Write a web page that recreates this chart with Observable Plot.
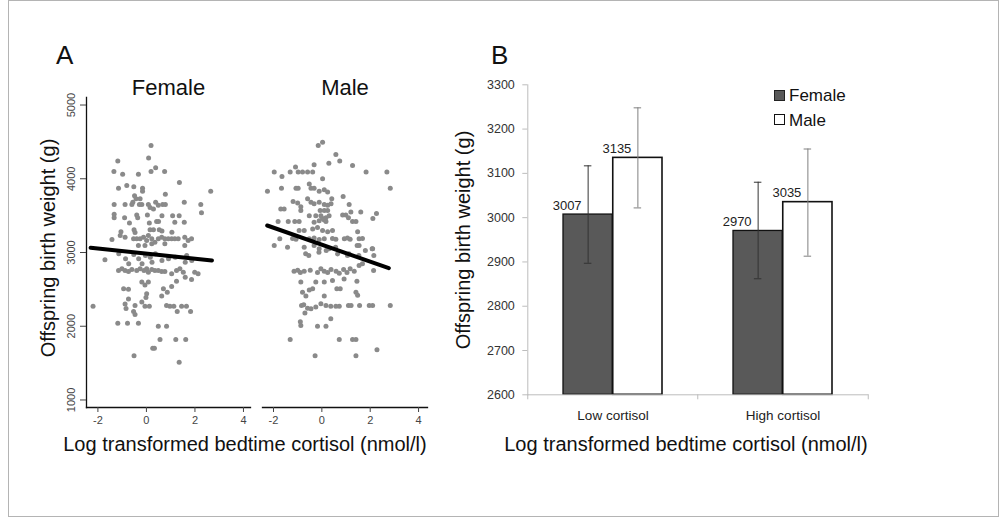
<!DOCTYPE html>
<html>
<head>
<meta charset="utf-8">
<script src="https://cdn.jsdelivr.net/npm/d3@7"></script>
<script src="https://cdn.jsdelivr.net/npm/@observablehq/plot@0.6"></script>
<style>
  body { margin: 0; background: #fff; font-family: "Liberation Sans", Arial, sans-serif; }
  #wrap { position: relative; width: 1002px; height: 524px; overflow: hidden; background: #fff; }
  #wrap svg { position: absolute; left: 0; top: 0; }
  .border { position: absolute; left: 8px; top: 0px; width: 991px; height: 517px; border: 1px solid #b4b4b4; box-sizing: border-box; }
  .t { position: absolute; white-space: nowrap; color: #111; }
  .panel { font-size: 26px; line-height: 26px; }
  .ytitle { font-size: 20px; line-height: 20px; transform: translate(-50%, -50%) rotate(-90deg); }
  .xtitle { font-size: 20px; line-height: 20px; width: 500px; text-align: center; }
  .leg { font-size: 17px; line-height: 17px; }
  .sw { position: absolute; width: 11px; height: 11px; box-sizing: border-box; border: 1.5px solid #111; }
</style>
</head>
<body>
<div id="wrap">
  <div class="border"></div>
</div>
<script>
// ---------- Panel A data: log bedtime cortisol vs offspring birth weight ----------
const femaleX = [
  0.19,-1.18,0.09,-1.34,-0.98,-0.33,0.19,0.38,0.75,1.36,2.65,
  -1.15,-0.81,-0.52,-0.16,-0.16,0.78,-0.49,-0.43,-0.26,
  -1.33,-0.88,-0.6,-0.56,-0.29,-0.19,0.08,0.15,0.38,0.29,0.49,0.67,0.78,1.56,2.24,2.27,
  -1.33,-1.33,-0.9,-0.7,-0.4,-0.36,0.04,0.12,0.42,0.5,0.64,1.08,1.35,1.17,1.56,
  -0.51,-0.47,0.15,0.29,0.53,-1.05,0.64,1.05,
  -1.42,-1.08,-0.88,-0.53,-0.4,-0.26,-0.12,0.01,0.08,0.22,0.35,0.49,0.63,0.76,0.9,1.04,1.17,1.31,1.58,1.72,1.86,1.58,-0.33,-0.06,0.22,0.76,
  -1.71,-1.14,-0.86,-0.52,-0.32,-0.04,0.16,0.37,0.64,0.91,1.19,1.6,1.66,1.87,-0.73,-0.18,0.23,
  -1.15,-1.01,-0.88,-0.74,-0.6,-0.4,-0.26,-0.1,0.01,0.08,0.22,0.35,0.49,0.63,0.76,1.04,1.24,1.38,1.52,1.99,2.13,
  1.86,1.6,-0.94,-0.74,-0.19,-0.06,0.08,0.7,0.86,1.04,1.24,0.01,-0.02,0.63,
  -2.2,-0.74,-0.88,-0.84,-0.47,-0.19,-0.06,0.12,0.83,0.97,1.13,1.45,1.65,
  -0.53,-0.47,1.27,1.82,-1.18,-0.78,-0.33,0.49,0.83,0.56,1.21,1.62,0.26,0.33,-0.51,1.35
];
const femaleW = [
  4450,4240,4280,4100,4060,4060,4100,4150,4100,3950,3830,
  3870,3910,3890,3870,3830,3790,3770,3730,3730,
  3650,3650,3650,3680,3650,3650,3650,3610,3680,3590,3640,3650,3650,3680,3650,3540,
  3520,3470,3470,3400,3510,3470,3510,3400,3420,3420,3500,3500,3500,3410,3410,
  3310,3270,3310,3310,3310,3280,3290,3275,
  3176,3230,3207,3186,3186,3186,3207,3163,3230,3186,3140,3186,3207,3186,3186,3186,3186,3186,3207,3163,3186,3095,3095,3095,3118,3118,
  2900,2982,2915,2973,2915,2959,2936,2982,2892,2915,2936,2869,2959,2892,2847,2847,2869,
  2756,2779,2756,2743,2770,2756,2779,2756,2779,2733,2770,2756,2756,2743,2743,2711,2756,2779,2733,2733,2711,
  2634,2665,2510,2500,2600,2560,2600,2510,2460,2540,2610,2440,2390,2410,
  2270,2370,2300,2240,2280,2330,2270,2270,2280,2270,2270,2270,2270,
  2200,2160,2200,2200,2040,2040,2040,2000,2000,1820,1820,1820,1700,1700,1600,1510
];
const maleX = [
  -0.15,0.03,0.58,0.74,-0.32,0.29,1.27,-1.09,-1.97,-1.31,-0.98,-0.8,-0.59,-0.38,1.83,2.69,-1.65,0.03,
  -2.25,-1.67,-1.07,-0.98,-0.52,-0.45,-0.32,-0.11,0.1,0.24,0.88,2.83,
  -1.19,-1.0,-0.87,-0.59,-0.45,-0.32,-0.11,0.1,0.24,0.38,0.41,1.13,
  -1.7,-1.56,-0.87,-0.07,0.1,0.24,0.86,0.99,1.2,1.61,2.26,2.11,
  -0.52,-0.25,-0.04,0.03,0.17,0.3,1.1,1.27,1.41,-1.81,-1.39,-1.12,-0.94,-0.32,-0.11,0.1,0.17,
  -0.94,-0.73,-0.38,-0.18,0.03,0.24,0.44,1.48,
  -1.74,-1.21,-1.07,-0.52,-0.32,-0.11,0.1,0.44,0.58,0.93,1.06,1.17,1.54,1.68,
  -1.97,-1.42,-0.73,-0.32,-0.11,0.3,1.54,2.1,0.65,1.06,
  -0.67,-0.54,-0.12,0.18,0.57,1.12,1.46,1.53,1.8,2.08,2.15,
  -1.15,-1.0,-0.89,-0.73,-0.48,-0.18,-0.04,0.1,0.24,0.38,0.59,0.72,0.9,1.04,1.17,1.34,1.54,1.68,2.14,
  -0.87,-0.25,0.1,0.44,0.92,1.45,-0.8,-0.52,-0.38,0.62,0.76,1.41,1.48,-0.66,0.1,
  -0.84,-0.75,-0.59,-0.45,-0.25,-0.04,0.17,0.37,0.58,0.72,1.1,1.21,1.56,1.96,2.1,2.83,
  -0.7,-0.89,-0.87,-0.18,0.17,0.37,-1.31,0.72,1.27,1.41,2.28,-0.28,1.41
];
const maleW = [
  4450,4495,4330,4240,4190,4210,4180,4160,4090,4090,4090,4090,4090,4090,4090,4090,4030,4000,
  3830,3870,3870,3870,3930,3870,3870,3830,3850,3820,3760,3870,
  3690,3670,3620,3730,3680,3660,3680,3650,3640,3660,3730,3650,
  3590,3590,3570,3570,3570,3570,3510,3510,3550,3550,3530,3460,
  3500,3500,3500,3460,3470,3500,3470,3420,3420,3420,3420,3420,3420,3410,3430,3440,3420,
  3300,3300,3320,3340,3300,3280,3300,3280,
  3186,3190,3180,3186,3195,3175,3186,3190,3180,3186,3195,3180,3186,3190,
  3095,3070,3070,3095,3050,3050,3095,3050,2980,2960,
  2982,2959,3004,3027,3072,2982,3095,2959,3027,3050,2959,
  2745,2760,2730,2745,2760,2730,2780,2745,2730,2770,2745,2720,2770,2730,2780,2745,2824,2847,2756,
  2600,2600,2600,2620,2640,2610,2460,2490,2510,2510,2510,2460,2420,2410,2410,
  2280,2290,2245,2237,2260,2305,2282,2270,2270,2270,2282,2282,2282,2282,2282,2282,
  2180,2060,2010,2000,2000,2100,1820,1820,1820,1820,1680,1600,1600
];
// regression line end points
const femaleFitX = [-2.3, 2.7];
const femaleFitW = [3064, 2892];
const maleFitX = [-2.26, 2.77];
const maleFitW = [3366, 2787];
const scatterXTicks = [-2, 0, 2, 4];
const scatterYTicks = [1000, 2000, 3000, 4000, 5000];

// ---------- Panel B data ----------
const categories = ["Low cortisol", "High cortisol"];
const femaleMean = [3007, 2970];
const maleMean = [3135, 3035];
const femaleLow = [2897, 2862];
const femaleHigh = [3117, 3080];
const maleLow = [3022, 2913];
const maleHigh = [3248, 3155];
const barYTicks = [2600, 2700, 2800, 2900, 3000, 3100, 3200, 3300];

const W = 1002, H = 524;
const FONT = "'Liberation Sans', Arial, sans-serif";
const wrap = document.getElementById("wrap");
const plain = d => String(d);

function scatter(xs, ws, fx, fw, title, left, right, withY) {
  const data = xs.map((x, i) => ({x, w: ws[i]}));
  const fit = fx.map((x, i) => ({x, w: fw[i]}));
  const marks = [
    Plot.dot(data, {x: "x", y: "w", r: 2.5, fill: "#8a8a8a"}),
    Plot.line(fit, {x: "x", y: "w", stroke: "#000", strokeWidth: 4}),
    Plot.frame({anchor: "bottom", stroke: "#111", strokeWidth: 1.3}),
    Plot.axisX({ticks: scatterXTicks, tickFormat: plain, tickSize: 5, tickPadding: 4, fontSize: 11, color: "#444", label: null}),
    Plot.text([title], {frameAnchor: "top", dy: -18, fontSize: 22, fill: "#111"})
  ];
  if (withY) {
    marks.push(
      Plot.frame({anchor: "left", stroke: "#111", strokeWidth: 1.3}),
      Plot.axisY({ticks: scatterYTicks, tickSize: 6, tickFormat: () => "", color: "#444", label: null}),
      Plot.text(scatterYTicks, {y: d => d, text: plain, frameAnchor: "left", rotate: -90,
        dx: -12, textAnchor: "middle", lineAnchor: "bottom", fontSize: 11, fill: "#444"})
    );
  } else {
    marks.push(Plot.axisY({ticks: [], label: null}));
  }
  return Plot.plot({
    width: W, height: H,
    marginLeft: left, marginRight: W - right, marginTop: 97, marginBottom: H - 407,
    style: {background: "transparent", fontFamily: FONT},
    x: {domain: withY ? [-2.47, 4.29] : [-2.455, 4.37], label: null},
    y: {domain: [898, 5102], label: null},
    marks
  });
}

wrap.appendChild(scatter(femaleX, femaleW, femaleFitX, femaleFitW, "Female", 86, 250, true));
wrap.appendChild(scatter(maleX, maleW, maleFitX, maleFitW, "Male", 262, 427, false));

// ---------- Panel B ----------
const bLeft = 527.3, bRight = 868.3;
const step = (bRight - bLeft) / categories.length;
const bw = 99.5;
const pad = 1 - bw / step;
const off = bw / 4;
const capW = 8;
const rows = categories.map((c, i) => ({
  cat: c, f: femaleMean[i], m: maleMean[i],
  fLo: femaleLow[i], fHi: femaleHigh[i], mLo: maleLow[i], mHi: maleHigh[i]
}));
const capInset = (bw - capW) / 2;
const barPlot = Plot.plot({
  width: W, height: H,
  marginLeft: bLeft, marginRight: W - bRight, marginTop: 84.3, marginBottom: H - 394.3,
  style: {background: "transparent", fontFamily: FONT},
  x: {domain: categories, paddingInner: pad, paddingOuter: pad / 2, label: null},
  y: {domain: [2600, 3300], label: null},
  marks: [
    Plot.barY(rows, {x: "cat", y1: 2600, y2: "f", fill: "#595959", stroke: "#111", strokeWidth: 1.3, insetRight: bw / 2}),
    Plot.barY(rows, {x: "cat", y1: 2600, y2: "m", fill: "#fff", stroke: "#111", strokeWidth: 1.6, insetLeft: bw / 2}),
    Plot.ruleY([2600], {stroke: "#bdbdbd"}),
    Plot.frame({anchor: "left", stroke: "#bdbdbd"}),
    Plot.axisY({ticks: barYTicks, tickFormat: plain, tickSize: 5, tickPadding: 8, stroke: "#bdbdbd", fill: "#333", fontSize: 12.5, label: null}),
    Plot.axisX({tickSize: 0, tickPadding: 15.5, fontSize: 13.5, fill: "#222", label: null}),
    Plot.ruleX(categories, {x: d => d, dx: -step / 2, y1: 2600, y2: 2600, insetBottom: -5, stroke: "#bdbdbd"}),
    Plot.ruleX(categories.slice(-1), {x: d => d, dx: step / 2, y1: 2600, y2: 2600, insetBottom: -5, stroke: "#bdbdbd"}),
    // error bars
    Plot.ruleX(rows, {x: "cat", y1: "fLo", y2: "fHi", dx: -off, stroke: "#333", strokeWidth: 1}),
    Plot.tickY(rows, {x: "cat", y: "fHi", dx: -off, insetLeft: capInset, insetRight: capInset, stroke: "#333"}),
    Plot.tickY(rows, {x: "cat", y: "fLo", dx: -off, insetLeft: capInset, insetRight: capInset, stroke: "#333"}),
    Plot.ruleX(rows, {x: "cat", y1: "mLo", y2: "mHi", dx: off, stroke: "#808080", strokeWidth: 1}),
    Plot.tickY(rows, {x: "cat", y: "mHi", dx: off, insetLeft: capInset, insetRight: capInset, stroke: "#808080"}),
    Plot.tickY(rows, {x: "cat", y: "mLo", dx: off, insetLeft: capInset, insetRight: capInset, stroke: "#808080"}),
    // value labels
    Plot.text(rows, {x: "cat", y: "f", text: d => String(d.f), dx: -off - 21, dy: -5, lineAnchor: "bottom", fontSize: 13, fill: "#222"}),
    Plot.text(rows, {x: "cat", y: "m", text: d => String(d.m), dx: off - 21, dy: -5, lineAnchor: "bottom", fontSize: 13, fill: "#222"})
  ]
});
wrap.appendChild(barPlot);

// ---------- text & legend ----------
function addText(cls, txt, css) {
  const d = document.createElement("div");
  d.className = "t " + cls;
  d.textContent = txt;
  Object.assign(d.style, css);
  wrap.appendChild(d);
  return d;
}
addText("panel", "A", {left: "56px", top: "42px"});
addText("panel", "B", {left: "491px", top: "42px"});
addText("ytitle", "Offspring birth weight (g)", {left: "47.5px", top: "247.5px"});
addText("ytitle", "Offspring birth weight (g)", {left: "463px", top: "239.5px"});
addText("xtitle", "Log transformed bedtime cortisol (nmol/l)", {left: "-5px", top: "434px"});
addText("xtitle", "Log transformed bedtime cortisol (nmol/l)", {left: "436px", top: "434px"});
const sw1 = document.createElement("div"); sw1.className = "sw";
Object.assign(sw1.style, {left: "774px", top: "90px", background: "#595959", borderColor: "#222"});
wrap.appendChild(sw1);
const sw2 = document.createElement("div"); sw2.className = "sw";
Object.assign(sw2.style, {left: "774px", top: "114px", background: "#fff"});
wrap.appendChild(sw2);
addText("leg", "Female", {left: "789px", top: "86.7px"});
addText("leg", "Male", {left: "789px", top: "111.7px"});
</script>
</body>
</html>
